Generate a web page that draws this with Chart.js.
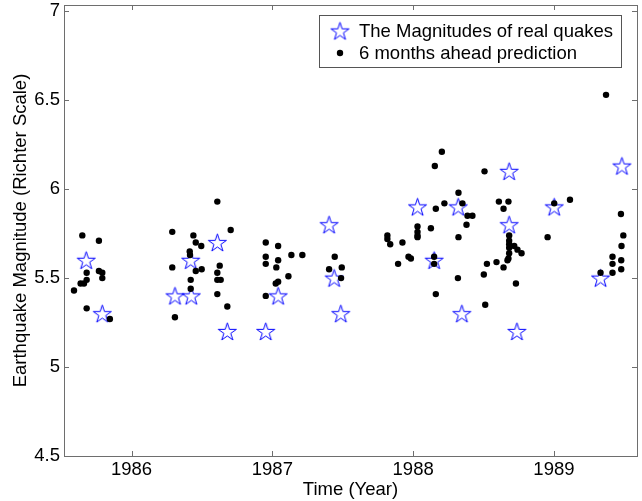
<!DOCTYPE html>
<html>
<head>
<meta charset="utf-8">
<script src="https://cdn.jsdelivr.net/npm/chart.js@4"></script>
<style>
  html, body { margin: 0; padding: 0; background: #fff; }
  #wrap { width: 642px; height: 501px; position: relative; }
</style>
</head>
<body>
<div id="wrap"><canvas id="c" width="642" height="501"></canvas></div>
<script>
// ---- data ----
const xTickValues = [1986, 1987, 1988, 1989];
const xTickLabels = ['1986', '1987', '1988', '1989'];
const yTickValues = [4.5, 5, 5.5, 6, 6.5, 7];
const yTickLabels = ['4.5', '5', '5.5', '6', '6.5', '7'];

const quakeYears = [1985.678, 1985.792, 1986.308, 1986.424, 1986.420, 1986.609, 1986.680, 1986.953, 1987.041, 1987.403, 1987.439, 1987.486, 1988.031, 1988.149, 1988.320, 1988.346, 1988.682, 1988.682, 1988.737, 1989.002, 1989.331, 1989.483];
const quakeMags  = [5.6, 5.3, 5.4, 5.4, 5.6, 5.7, 5.2, 5.2, 5.4, 5.8, 5.5, 5.3, 5.9, 5.6, 5.9, 5.3, 6.1, 5.8, 5.2, 5.9, 5.5, 6.13];

const predYears = [1985.650, 1985.768, 1985.681, 1985.768, 1985.792, 1985.792, 1985.681, 1985.662, 1985.638, 1985.591, 1985.681, 1985.846,
  1986.289, 1986.439, 1986.456, 1986.495, 1986.413, 1986.415, 1986.289, 1986.456, 1986.498, 1986.420, 1986.420, 1986.308,
  1986.609, 1986.704, 1986.626, 1986.609, 1986.609, 1986.633, 1986.609, 1986.680,
  1986.953, 1987.041, 1986.953, 1987.041, 1986.953, 1987.028, 1987.135, 1987.213, 1987.114, 1987.041, 1987.024, 1986.953,
  1987.443, 1987.403, 1987.493, 1987.488,
  1987.817, 1987.817, 1987.837, 1987.893,
  1988.204, 1988.154, 1988.507, 1988.322, 1988.222, 1988.161, 1988.350, 1988.386, 1988.421, 1988.379, 1988.609, 1988.677, 1988.642,
  1988.031, 1988.031, 1988.031, 1988.031, 1988.126, 1987.924, 1988.322, 1987.967, 1987.984, 1988.149, 1988.149, 1988.318, 1988.161,
  1988.512, 1988.524, 1988.592, 1988.502, 1988.642,
  1988.682, 1988.682, 1988.682, 1988.682, 1988.682, 1988.677, 1988.670, 1988.718, 1988.741, 1988.770, 1988.730,
  1989.002, 1989.114, 1988.955,
  1989.370, 1989.476, 1989.493, 1989.480, 1989.416, 1989.478, 1989.416, 1989.478, 1989.416, 1989.331];
const predMags = [5.74, 5.71, 5.53, 5.54, 5.53, 5.50, 5.49, 5.47, 5.47, 5.43, 5.33, 5.27,
  5.76, 5.74, 5.70, 5.68, 5.65, 5.63, 5.56, 5.54, 5.55, 5.49, 5.44, 5.28,
  5.93, 5.77, 5.57, 5.53, 5.49, 5.49, 5.41, 5.34,
  5.70, 5.68, 5.62, 5.60, 5.58, 5.56, 5.63, 5.63, 5.51, 5.48, 5.47, 5.40,
  5.62, 5.55, 5.56, 5.50,
  5.74, 5.72, 5.69, 5.58,
  6.21, 6.13, 6.10, 5.98, 5.92, 5.89, 5.92, 5.85, 5.85, 5.80, 5.93, 5.93, 5.89,
  5.79, 5.76, 5.74, 5.73, 5.78, 5.70, 5.73, 5.62, 5.61, 5.62, 5.58, 5.50, 5.41,
  5.35, 5.58, 5.59, 5.52, 5.56,
  5.74, 5.71, 5.69, 5.67, 5.64, 5.61, 5.60, 5.68, 5.66, 5.64, 5.47,
  5.92, 5.94, 5.73,
  6.53, 5.86, 5.74, 5.68, 5.62, 5.60, 5.58, 5.55, 5.53, 5.53];

const seriesNames = ['The Magnitudes of real quakes', '6 months ahead prediction'];
const xTitle = 'Time (Year)';
const yTitle = 'Earthquake Magnitude (Richter Scale)';

// ---- styles ----
const FONT = 'Liberation Sans, Arial, Helvetica, sans-serif';
const FS = 18.5;
const STAR_COLOR = '#0000ff';
const AXIS_COLOR = '#6e6e6e';

function makeStar(outerR) {
  const size = Math.ceil(outerR * 2 + 4);
  const cv = document.createElement('canvas');
  cv.width = size; cv.height = size;
  const g = cv.getContext('2d');
  const cx = size / 2, cy = size / 2 + 0.8;
  const innerR = outerR * 0.382;
  g.beginPath();
  for (let i = 0; i < 10; i++) {
    const r = i % 2 === 0 ? outerR : innerR;
    const a = -Math.PI / 2 + i * Math.PI / 5;
    const px = cx + r * Math.cos(a), py = cy + r * Math.sin(a);
    if (i === 0) g.moveTo(px, py); else g.lineTo(px, py);
  }
  g.closePath();
  g.strokeStyle = STAR_COLOR;
  g.lineWidth = 1;
  g.stroke();
  return cv;
}
const starImg = makeStar(9.5);

function toPoints(xs, ys) { return xs.map((x, i) => ({ x: x, y: ys[i] })); }

// inward ticks + box + legend
const frame = {
  id: 'frame',
  afterDraw(chart) {
    const { ctx, chartArea: a, scales: { x, y } } = chart;
    ctx.save();
    ctx.strokeStyle = AXIS_COLOR;
    ctx.lineWidth = 1;
    ctx.strokeRect(Math.round(a.left) + 0.5, Math.round(a.top) + 0.5, Math.round(a.right - a.left), Math.round(a.bottom - a.top));
    const TL = 5;
    ctx.beginPath();
    xTickValues.forEach(v => {
      const px = Math.round(x.getPixelForValue(v)) + 0.5;
      ctx.moveTo(px, a.bottom); ctx.lineTo(px, a.bottom - TL);
      ctx.moveTo(px, a.top); ctx.lineTo(px, a.top + TL);
    });
    yTickValues.forEach(v => {
      const py = Math.round(y.getPixelForValue(v)) + 0.5;
      ctx.moveTo(a.left, py); ctx.lineTo(a.left + TL, py);
      ctx.moveTo(a.right, py); ctx.lineTo(a.right - TL, py);
    });
    ctx.stroke();

    // legend
    const L = 319.5, T = 15.5, W = 302, H = 52;
    ctx.fillStyle = '#fff';
    ctx.fillRect(L, T, W, H);
    ctx.strokeStyle = '#555';
    ctx.strokeRect(L, T, W, H);
    ctx.drawImage(starImg, 340 - starImg.width / 2, 31 - starImg.height / 2);
    ctx.fillStyle = '#000';
    ctx.beginPath(); ctx.arc(340, 53, 3.2, 0, Math.PI * 2); ctx.fill();
    ctx.font = FS + 'px ' + FONT;
    ctx.textBaseline = 'middle';
    ctx.textAlign = 'left';
    ctx.fillText(seriesNames[0], 359, 32);
    ctx.fillText(seriesNames[1], 359, 54);
    ctx.restore();
  }
};

new Chart(document.getElementById('c'), {
  type: 'scatter',
  data: {
    datasets: [
      {
        label: seriesNames[1],
        data: toPoints(predYears, predMags),
        pointStyle: 'circle',
        pointRadius: 3.2,
        pointBackgroundColor: '#000',
        pointBorderColor: '#000',
        pointBorderWidth: 0,
        showLine: false
      },
      {
        label: seriesNames[0],
        data: toPoints(quakeYears, quakeMags),
        pointStyle: starImg,
        pointRadius: 10,
        showLine: false
      }
    ]
  },
  options: {
    responsive: false,
    animation: false,
    devicePixelRatio: 1,
    layout: { autoPadding: false, padding: { left: 0, right: 5, top: 5, bottom: 0 } },
    plugins: { legend: { display: false }, tooltip: { enabled: false } },
    scales: {
      x: {
        type: 'linear',
        min: 1985.52, max: 1989.59,
        afterBuildTicks: s => { s.ticks = xTickValues.map(v => ({ value: v })); },
        afterFit: s => { s.height = 45; s.paddingLeft = 0; s.paddingRight = 0; },
        grid: { display: false, drawTicks: false },
        border: { display: false },
        ticks: {
          padding: 3,
          color: '#000',
          font: { family: FONT, size: FS },
          callback: (v) => { const i = xTickValues.indexOf(v); return i >= 0 ? xTickLabels[i] : ''; },
          maxRotation: 0, autoSkip: false
        },
        title: { display: true, text: xTitle, color: '#000', font: { family: FONT, size: FS }, padding: { top: 0, bottom: 0 } }
      },
      y: {
        type: 'linear',
        min: 4.5, max: 7.035,
        afterBuildTicks: s => { s.ticks = yTickValues.map(v => ({ value: v })); },
        afterFit: s => { s.width = 64; s.paddingTop = 0; s.paddingBottom = 0; },
        grid: { display: false, drawTicks: false },
        border: { display: false },
        ticks: {
          padding: 4,
          color: '#000',
          font: { family: FONT, size: FS },
          callback: (v) => { const i = yTickValues.indexOf(v); return i >= 0 ? yTickLabels[i] : ''; },
          autoSkip: false
        },
        title: { display: true, text: yTitle, color: '#000', font: { family: FONT, size: FS }, padding: { top: 10, bottom: 0 } }
      }
    }
  },
  plugins: [frame]
});
</script>
</body>
</html>
